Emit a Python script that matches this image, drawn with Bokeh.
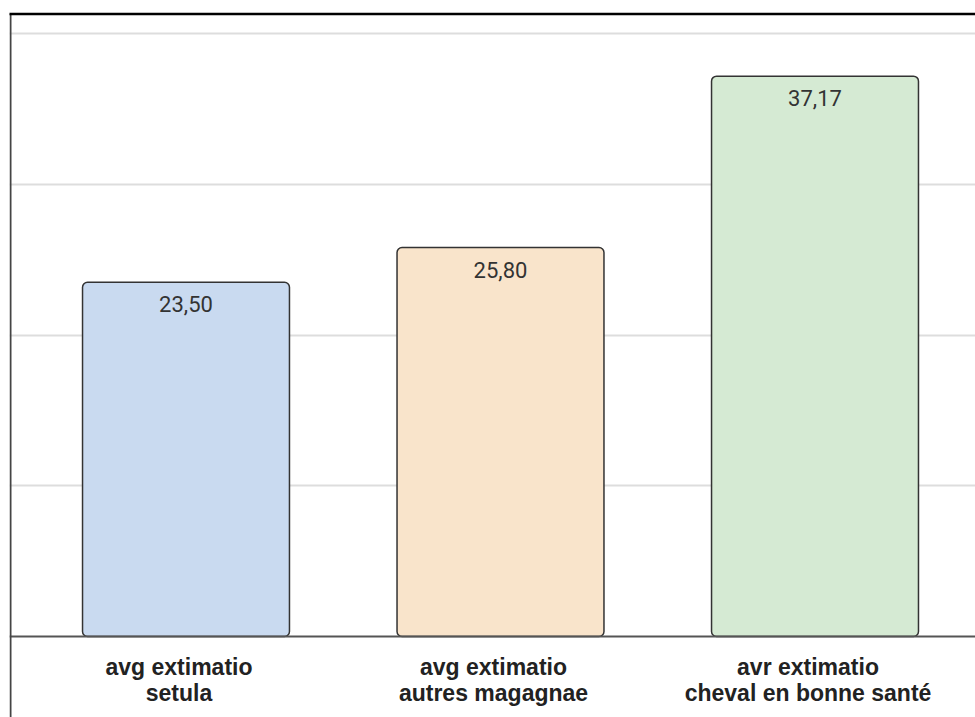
from bokeh.plotting import figure
from bokeh.models import ColumnDataSource, Range1d, FixedTicker, Span, BoxAnnotation
from bokeh.core.properties import value
from bokeh.embed import file_html
from bokeh.resources import INLINE

categories = ["avg extimatio\nsetula", "avg extimatio\nautres magagnae", "avr extimatio\ncheval en bonne santé"]
values = [23.50, 25.80, 37.17]
value_labels = ["23,50", "25,80", "37,17"]
colors = ["#c9daf0", "#f9e4cb", "#d5ead3"]
grid_ticks = [10, 20, 30, 40]

xs = list(range(len(categories)))
src = ColumnDataSource(dict(x=xs, top=values, lab=value_labels, cat=categories,
                            color=colors, zero=[0] * len(xs)))

p = figure(width=975, height=717, output_backend="svg", toolbar_location=None,
           x_range=Range1d(-0.5612, 2.5103), y_range=Range1d(-5.373, 42.19),
           min_border_left=9, min_border_right=0, min_border_top=0, min_border_bottom=0)
p.xaxis.visible = False
p.yaxis.visible = False
p.xgrid.visible = False
p.ygrid.ticker = FixedTicker(ticks=grid_ticks)
p.ygrid.grid_line_color = "#dddddd"
p.ygrid.grid_line_width = 2
p.outline_line_color = None
p.background_fill_color = "white"
p.border_fill_color = "white"

p.vbar(x="x", top="top", bottom=0, width=0.658, source=src, fill_color="color",
       line_color="#333333", line_width=1.5, border_radius=5)

p.text(x="x", y="top", text="lab", source=src, text_align="center", text_baseline="middle",
       y_offset=22, text_font=value("Roboto"), text_font_size="22px", text_color="#333333")

p.text(x="x", y="zero", text="cat", source=src, text_align="center", text_baseline="middle",
       x_offset=-7, y_offset=43, text_font=value("Liberation Sans"), text_font_style="bold",
       text_font_size="23px", text_color="#222222", text_line_height=1.0)

p.add_layout(Span(location=0, dimension="width", line_color="#555555", line_width=2))

border_y = 41.29
p.add_layout(BoxAnnotation(left=-0.558, right=99, top=border_y, bottom=-99,
                           fill_alpha=0, line_color="#444444", line_alpha=1, line_width=2))
p.add_layout(BoxAnnotation(left=-99, right=99, top=border_y, bottom=-99,
                           fill_alpha=0, line_color="#000000", line_alpha=1, line_width=2.5))

open("out.html", "w").write(file_html(p, INLINE))
